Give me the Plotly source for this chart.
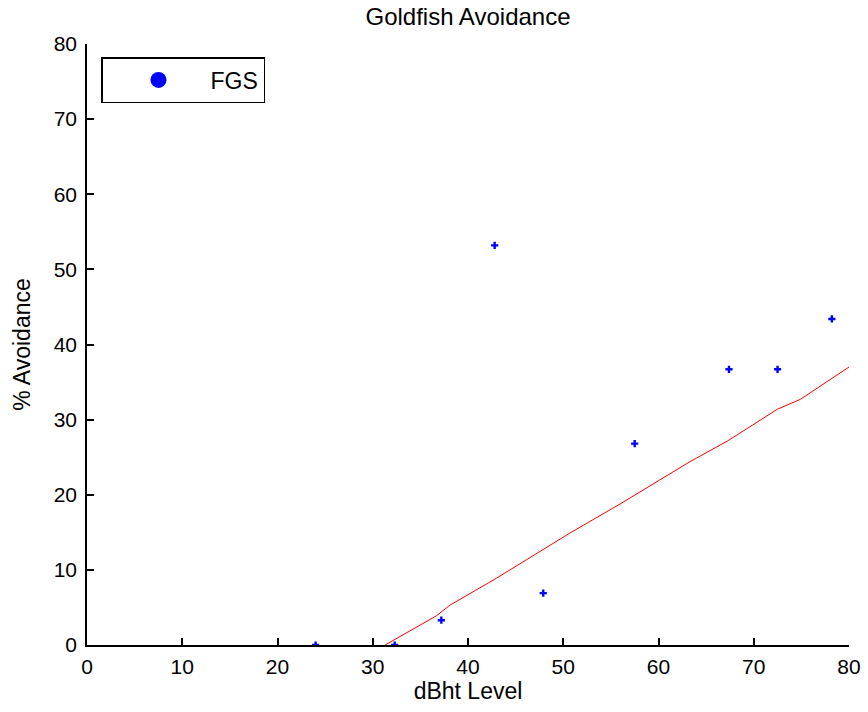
import plotly.graph_objects as go

# Data
dbht = [24.0, 32.3, 37.2, 42.8, 47.9, 57.5, 67.4, 72.5, 78.2]
avoidance = [0.0, 0.0, 3.3, 53.2, 6.9, 26.8, 36.7, 36.7, 43.4]

fit_x = [31.3, 36.7, 38.1, 43.0, 50.7, 56.0, 63.3, 67.3, 72.5, 74.9, 80.0]
fit_y = [0.0, 3.9, 5.3, 8.9, 14.9, 18.8, 24.4, 27.2, 31.4, 32.7, 37.0]

x_ticks = [0, 10, 20, 30, 40, 50, 60, 70, 80]
y_ticks = [0, 10, 20, 30, 40, 50, 60, 70, 80]

FONT = "Liberation Sans, Arial, sans-serif"

fig = go.Figure()
fig.add_trace(go.Scatter(
    x=dbht, y=avoidance, mode="markers", name="FGS", showlegend=False,
    marker=dict(symbol="cross", size=6, color="#0000FF", line=dict(width=0)),
))
fig.add_trace(go.Scatter(
    x=fit_x, y=fit_y, mode="lines", showlegend=False,
    line=dict(color="#FF0000", width=1),
))
# legend entry (filled dot as in the original legend)
fig.add_trace(go.Scatter(
    x=[None], y=[None], mode="markers", name="\u00a0" * 5 + "FGS",
    marker=dict(symbol="circle", size=16, color="#0000FF"),
))

fig.update_layout(
    width=868, height=712,
    margin=dict(l=87, r=19, t=44, b=67, autoexpand=False),
    paper_bgcolor="white", plot_bgcolor="white",
    font=dict(family=FONT, size=21, color="black"),
    title=dict(text="Goldfish Avoidance", x=(87 + 381) / 868, xanchor="center",
               y=1 - 17 / 712, yanchor="middle", font=dict(size=24)),
    showlegend=True,
    legend=dict(
        x=(101 - 87) / 762, y=(645 - 57) / 601, xanchor="left", yanchor="top",
        bordercolor="black", borderwidth=1.5, bgcolor="white",
        font=dict(size=23), indentation=36,
    ),
)
fig.update_xaxes(
    range=[0, 80], tickvals=x_ticks, ticktext=[str(v) for v in x_ticks],
    showgrid=False, zeroline=False, showline=True, linecolor="black", linewidth=1.5,
    ticks="inside", ticklen=7, tickwidth=1.5, tickcolor="black", mirror=False,
    title=dict(text="dBht Level", standoff=4, font=dict(size=23)),
    tickfont=dict(size=21), ticklabelstandoff=2, automargin=False,
)
fig.update_yaxes(
    range=[0, 80], tickvals=y_ticks, ticktext=[str(v) for v in y_ticks],
    showgrid=False, zeroline=False, showline=True, linecolor="black", linewidth=1.5,
    ticks="inside", ticklen=7, tickwidth=1.5, tickcolor="black", mirror=False,
    title=dict(text="% Avoidance", standoff=17, font=dict(size=23)),
    tickfont=dict(size=21), ticklabelstandoff=4, automargin=False,
)

fig.write_html("out.html")
